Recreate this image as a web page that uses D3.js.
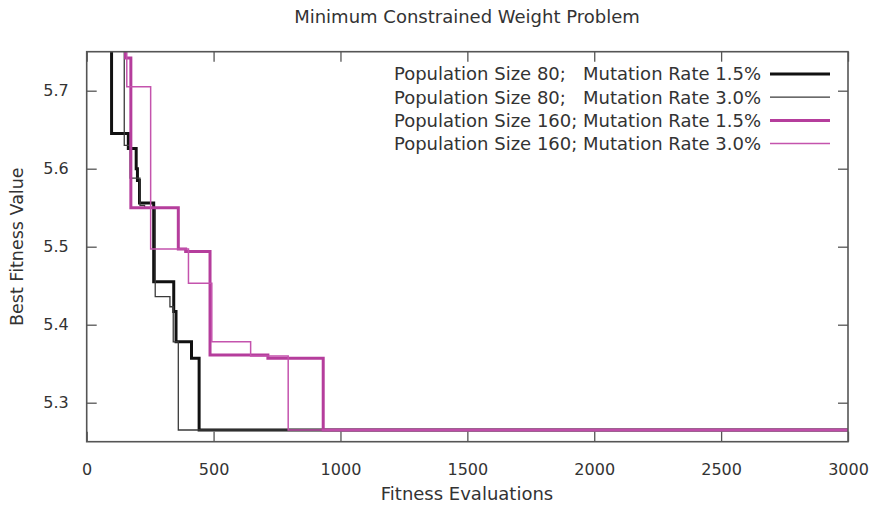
<!DOCTYPE html>
<html>
<head>
<meta charset="utf-8">
<script src="https://cdn.jsdelivr.net/npm/d3@7"></script>
<style>
  html, body { margin: 0; padding: 0; background: #fff; }
  svg { display: block; }
  text { font-family: "DejaVu Sans", sans-serif; fill: #333; }
</style>
</head>
<body>
<svg id="chart" width="878" height="506"></svg>
<script>
// Best fitness found so far, as step series (evaluation count, best value)
const evalsPop80Mut15 = [0, 98, 164, 195, 200, 208, 264, 343, 352, 413, 443, 3000];
const bestPop80Mut15  = [5.95, 5.645, 5.626, 5.600, 5.585, 5.556, 5.455, 5.417, 5.378, 5.357, 5.265, 5.265];

const evalsPop80Mut30 = [0, 148, 171, 210, 228, 270, 328, 341, 361, 3000];
const bestPop80Mut30  = [5.95, 5.630, 5.588, 5.553, 5.550, 5.436, 5.423, 5.378, 5.265, 5.265];

const evalsPop160Mut15 = [0, 153, 174, 361, 390, 486, 714, 932, 3000];
const bestPop160Mut15  = [5.95, 5.742, 5.550, 5.497, 5.494, 5.361, 5.357, 5.265, 5.265];

const evalsPop160Mut30 = [0, 158, 252, 401, 493, 646, 794, 3000];
const bestPop160Mut30  = [5.95, 5.705, 5.497, 5.453, 5.378, 5.360, 5.265, 5.265];

const seriesLabels = [
  "Population Size 80;   Mutation Rate 1.5%",
  "Population Size 80;   Mutation Rate 3.0%",
  "Population Size 160; Mutation Rate 1.5%",
  "Population Size 160; Mutation Rate 3.0%"
];

const xTicks = [0, 500, 1000, 1500, 2000, 2500, 3000];
const yTicks = [5.3, 5.4, 5.5, 5.6, 5.7];

const titleText = "Minimum Constrained Weight Problem";
const xLabel = "Fitness Evaluations";
const yLabel = "Best Fitness Value";

// Styling per series
const styles = [
  { color: "#111111", width: 3.0 },
  { color: "#3a3a3a", width: 1.3 },
  { color: "#b53d9c", width: 3.0 },
  { color: "#c453ad", width: 1.5 }
];

const series = [
  [evalsPop80Mut15, bestPop80Mut15],
  [evalsPop80Mut30, bestPop80Mut30],
  [evalsPop160Mut15, bestPop160Mut15],
  [evalsPop160Mut30, bestPop160Mut30]
].map(([xs, ys], i) => ({
  label: seriesLabels[i],
  style: styles[i],
  points: xs.map((x, j) => ({ x, y: ys[j] }))
}));

const svg = d3.select("#chart");
const plot = { left: 86.7, right: 848, top: 51.7, bottom: 441.7 };

const x = d3.scaleLinear().domain([0, 3000]).range([plot.left, plot.right]);
const y = d3.scaleLinear().domain([5.25, 5.75]).range([plot.bottom, plot.top]);

svg.append("defs").append("clipPath").attr("id", "plotClip")
  .append("rect")
  .attr("x", plot.left).attr("y", plot.top)
  .attr("width", plot.right - plot.left).attr("height", plot.bottom - plot.top);

// Title
svg.append("text")
  .attr("x", 467).attr("y", 23)
  .attr("text-anchor", "middle")
  .style("font-size", "18px")
  .text(titleText);

// Axes with inward ticks on all four sides
const tickLen = 10;
const axisColor = "#555";

const bottomAxis = d3.axisBottom(x).tickValues(xTicks).tickSize(-tickLen).tickPadding(22).tickFormat(d3.format("d"));
const topAxis = d3.axisTop(x).tickValues(xTicks).tickSize(-tickLen).tickFormat("");
const leftAxis = d3.axisLeft(y).tickValues(yTicks).tickSize(-tickLen).tickPadding(18).tickFormat(d3.format(".1f"));
const rightAxis = d3.axisRight(y).tickValues(yTicks).tickSize(-tickLen).tickFormat("");

function styleAxis(g) {
  g.select(".domain").remove();
  g.selectAll(".tick line").attr("stroke", axisColor).attr("stroke-width", 1.3);
  g.selectAll(".tick text").attr("fill", "#333").style("font-size", "16px").style("font-family", "DejaVu Sans, sans-serif");
}

svg.append("g").attr("transform", `translate(0,${plot.bottom})`).call(bottomAxis).call(styleAxis);
svg.append("g").attr("transform", `translate(0,${plot.top})`).call(topAxis).call(styleAxis);
svg.append("g").attr("transform", `translate(${plot.left},0)`).call(leftAxis).call(styleAxis);
svg.append("g").attr("transform", `translate(${plot.right},0)`).call(rightAxis).call(styleAxis);

// Axis labels
svg.append("text")
  .attr("x", 467).attr("y", 500)
  .attr("text-anchor", "middle")
  .style("font-size", "18px")
  .text(xLabel);

svg.append("text")
  .attr("transform", `translate(23,${(plot.top + plot.bottom) / 2}) rotate(-90)`)
  .attr("text-anchor", "middle")
  .style("font-size", "17.5px")
  .text(yLabel);

// Step lines
const line = d3.line()
  .x(d => x(d.x))
  .y(d => y(d.y))
  .curve(d3.curveStepAfter);

const lines = svg.append("g").attr("clip-path", "url(#plotClip)");
series.forEach(s => {
  lines.append("path")
    .datum(s.points)
    .attr("fill", "none")
    .attr("stroke", s.style.color)
    .attr("stroke-width", s.style.width)
    .attr("stroke-linejoin", "miter")
    .attr("d", line);
});

// Frame
svg.append("rect")
  .attr("x", plot.left).attr("y", plot.top)
  .attr("width", plot.right - plot.left).attr("height", plot.bottom - plot.top)
  .attr("fill", "none")
  .attr("stroke", axisColor)
  .attr("stroke-width", 1.6);

// Legend
const legend = svg.append("g");
series.forEach((s, i) => {
  const ly = 74 + i * 23.2;
  legend.append("text")
    .attr("x", 761).attr("y", ly)
    .attr("dy", "0.35em")
    .attr("text-anchor", "end")
    .style("font-size", "18px")
    .style("white-space", "pre")
    .text(s.label);
  legend.append("line")
    .attr("x1", 770).attr("x2", 830)
    .attr("y1", ly).attr("y2", ly)
    .attr("stroke", s.style.color)
    .attr("stroke-width", s.style.width);
});
</script>
</body>
</html>
